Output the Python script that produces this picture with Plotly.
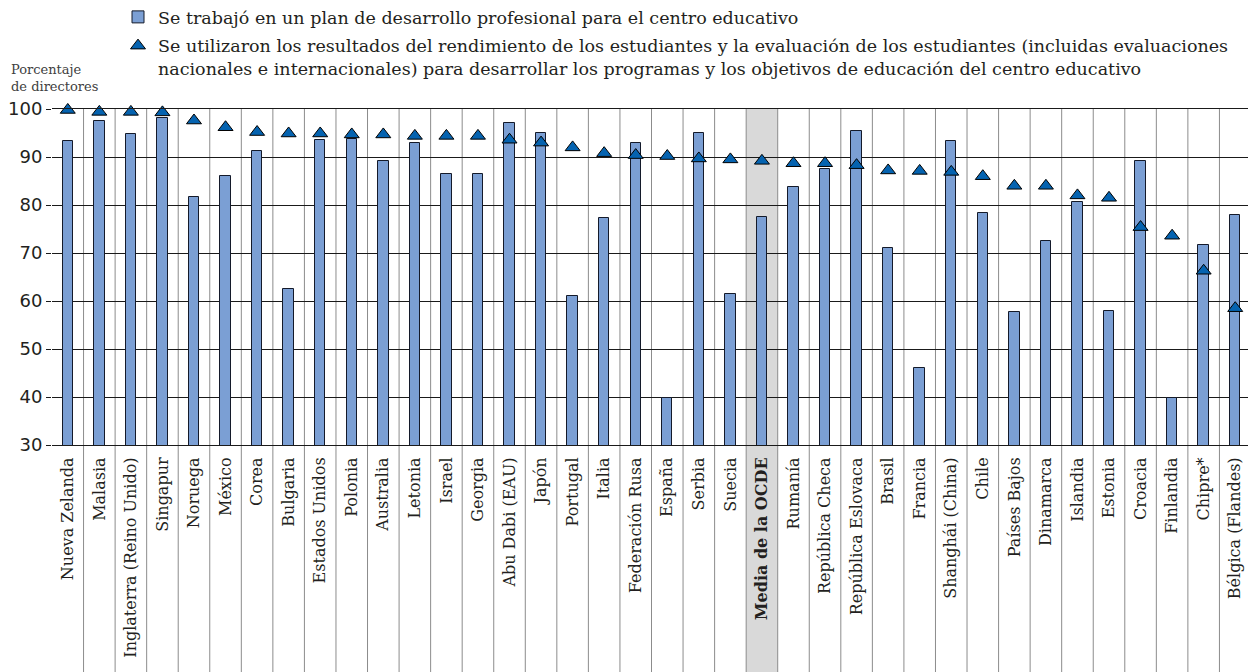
import plotly.graph_objects as go

categories = ["Nueva Zelanda", "Malasia", "Inglaterra (Reino Unido)", "Singapur", "Noruega", "México",
              "Corea", "Bulgaria", "Estados Unidos", "Polonia", "Australia", "Letonia", "Israel",
              "Georgia", "Abu Dabi (EAU)", "Japón", "Portugal", "Italia", "Federación Rusa", "España",
              "Serbia", "Suecia", "Media de la OCDE", "Rumanía", "República Checa", "República Eslovaca",
              "Brasil", "Francia", "Shanghái (China)", "Chile", "Países Bajos", "Dinamarca", "Islandia",
              "Estonia", "Croacia", "Finlandia", "Chipre*", "Bélgica (Flandes)"]

plan_desarrollo = [93.4, 97.4, 94.8, 98.1, 81.7, 86.1, 91.3, 62.4, 93.5, 93.8, 89.2, 93.0, 86.4,
                   86.4, 97.0, 95.1, 61.0, 77.2, 93.0, 39.7, 94.9, 61.4, 77.4, 83.7, 87.4, 95.5,
                   71.0, 46.0, 93.4, 78.3, 57.8, 72.6, 80.6, 57.9, 89.2, 39.7, 71.6, 78.0]

uso_resultados = [99.8, 99.4, 99.4, 99.3, 97.6, 96.2, 95.2, 94.9, 94.9, 94.7, 94.7, 94.4, 94.4,
                  94.4, 93.6, 93.0, 92.0, 90.8, 90.4, 90.2, 89.7, 89.5, 89.2, 88.7, 88.7, 88.3,
                  87.2, 87.1, 86.9, 86.0, 84.0, 84.0, 82.0, 81.5, 75.4, 73.6, 66.3, 58.5]

highlight = "Media de la OCDE"
tick_text = ["<b>%s</b>" % c if c == highlight else c for c in categories]

name_bar = "Se trabajó en un plan de desarrollo profesional para el centro educativo"
name_tri = ("Se utilizaron los resultados del rendimiento de los estudiantes y la evaluación de los "
            "estudiantes (incluidas evaluaciones<br>nacionales e internacionales) para desarrollar "
            "los programas y los objetivos de educación del centro educativo")

fig = go.Figure()
fig.add_trace(go.Bar(
    x=categories, y=plan_desarrollo, name=name_bar, width=0.33, legendgroup="a",
    marker=dict(color="#7b9fd4", line=dict(color="#141a2a", width=1)),
))
fig.add_trace(go.Scatter(
    x=categories, y=uso_resultados, name=name_tri, mode="markers", cliponaxis=False,
    legendgroup="b",
    marker=dict(symbol="triangle-up", size=13, color="#0563b0", line=dict(color="#000000", width=1)),
))

# page body has an 8px margin; figure is sized/offset to compensate
W, H = 1248, 664
ml, mr, mt, mb = 44, 5, 101, 227
plot_w = W - ml - mr
plot_h = H - mt - mb
ybot = -(mb + 8) / plot_h

shapes = []
hi = categories.index(highlight)
shapes.append(dict(type="rect", xref="x", yref="paper", x0=hi - 0.5, x1=hi + 0.5, y0=ybot, y1=1,
                   fillcolor="#d9d9d9", line=dict(width=0), layer="below"))
for k in range(1, len(categories)):
    shapes.append(dict(type="line", xref="x", yref="paper", x0=k - 0.5, x1=k - 0.5, y0=ybot, y1=1,
                       line=dict(color="#8c8c8c", width=1), layer="below"))

fig.update_layout(
    width=W, height=H,
    margin=dict(l=ml, r=mr, t=mt, b=mb, pad=0, autoexpand=False),
    plot_bgcolor="white", paper_bgcolor="white",
    showlegend=True,
    shapes=shapes,
    legend=dict(orientation="v", xref="container", yref="paper",
                x=110 / W, xanchor="left", y=1 + (mt + 9) / plot_h, yanchor="top", valign="top",
                font=dict(family="DejaVu Serif", size=17.5, color="#231f20"),
                bgcolor="rgba(0,0,0,0)", traceorder="grouped", tracegroupgap=3),
    annotations=[dict(text="Porcentaje<br>de directores", xref="paper", yref="paper",
                      x=(1 - ml) / plot_w, y=1 + (mt - 52) / plot_h,
                      xanchor="left", yanchor="top", align="left", showarrow=False,
                      font=dict(family="DejaVu Serif", size=13, color="#404040"))],
    xaxis=dict(type="category", range=[-0.5, len(categories) - 0.5], showgrid=False,
               showline=True, mirror=True, linecolor="#1a1a1a", linewidth=1, automargin=False,
               tickmode="array", tickvals=categories, ticktext=tick_text,
               tickangle=-90, ticks="", ticklabelstandoff=5,
               tickfont=dict(family="DejaVu Serif", size=16, color="#231f20")),
    yaxis=dict(range=[30, 100], tick0=30, dtick=10, showgrid=True, gridcolor="#1a1a1a",
               gridwidth=1, zeroline=False, showline=False, ticks="outside", ticklen=5,
               automargin=False,
               tickcolor="#1a1a1a", tickfont=dict(family="DejaVu Sans", size=18, color="#231f20")),
    bargap=0,
)

fig.write_html("out.html")
